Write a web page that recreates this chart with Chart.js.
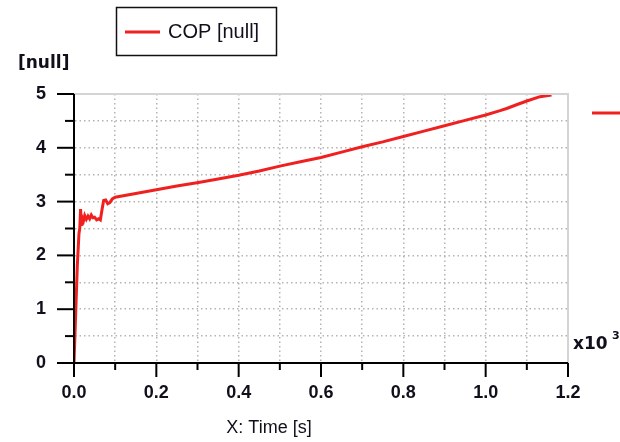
<!DOCTYPE html>
<html>
<head>
<meta charset="utf-8">
<script src="https://cdn.jsdelivr.net/npm/chart.js@4"></script>
<style>
  html, body { margin: 0; padding: 0; background: #fff; }
  #wrap { width: 620px; height: 442px; }
</style>
</head>
<body>
<div id="wrap"><canvas id="cop"></canvas></div>
<script>
// time axis in x10^3 s
const timeX = [0.000, 0.004, 0.008, 0.012, 0.014, 0.016, 0.018, 0.020, 0.023, 0.026, 0.030, 0.034, 0.038,
  0.042, 0.046, 0.050, 0.055, 0.060, 0.064, 0.068, 0.072, 0.077, 0.082, 0.087, 0.093, 0.100, 0.150,
  0.200, 0.250, 0.306, 0.350, 0.400, 0.450, 0.500, 0.550, 0.600, 0.650, 0.700, 0.750, 0.800, 0.850,
  0.900, 0.950, 1.000, 1.035, 1.051, 1.075, 1.100, 1.132, 1.160];
const copVals = [0.00, 0.90, 1.80, 2.40, 2.50, 2.86, 2.55, 2.70, 2.64, 2.74, 2.67, 2.73, 2.68,
  2.75, 2.70, 2.71, 2.66, 2.68, 2.66, 2.85, 3.02, 3.03, 2.96, 2.98, 3.05, 3.08, 3.15,
  3.22, 3.29, 3.36, 3.42, 3.49, 3.57, 3.66, 3.74, 3.82, 3.92, 4.02, 4.11, 4.21, 4.31,
  4.41, 4.51, 4.61, 4.69, 4.73, 4.80, 4.87, 4.95, 4.98];
const xTickVals = [0, 0.1, 0.2, 0.3, 0.4, 0.5, 0.6, 0.7, 0.8, 0.9, 1.0, 1.1, 1.2];
const yTickVals = [0, 0.5, 1, 1.5, 2, 2.5, 3, 3.5, 4, 4.5, 5];

const lineRed = 'rgb(240,32,32)';
const textCol = '#10101c';
const tickFont = { family: 'Liberation Sans', size: 18, weight: 'bold' };

// extra drawing: frame, tick marks, unit texts, legend box
const decorPlugin = {
    id: 'decor',
    afterDraw(chart) {
        const ctx = chart.ctx;
        const a = chart.chartArea;
        const xs = chart.scales.x, ys = chart.scales.y;
        ctx.save();
        ctx.setLineDash([]);
        // top / right frame
        ctx.strokeStyle = '#d4d4d4';
        ctx.lineWidth = 2;
        ctx.beginPath();
        ctx.moveTo(a.left, a.top);
        ctx.lineTo(a.right, a.top);
        ctx.lineTo(a.right, a.bottom);
        ctx.stroke();
        // axis lines on top
        ctx.strokeStyle = '#000';
        ctx.beginPath();
        ctx.moveTo(a.left, a.top);
        ctx.lineTo(a.left, a.bottom);
        ctx.lineTo(a.right, a.bottom);
        ctx.stroke();
        // tick marks
        xTickVals.forEach((v, i) => {
            const px = xs.getPixelForValue(v);
            ctx.beginPath();
            ctx.moveTo(px, a.bottom);
            ctx.lineTo(px, a.bottom + (i % 2 === 0 ? 14 : 7));
            ctx.stroke();
        });
        yTickVals.forEach((v, i) => {
            const py = ys.getPixelForValue(v);
            ctx.beginPath();
            ctx.moveTo(a.left, py);
            ctx.lineTo(a.left - (i % 2 === 0 ? 17 : 9), py);
            ctx.stroke();
        });
        // texts
        ctx.fillStyle = textCol;
        ctx.textBaseline = 'middle';
        ctx.textAlign = 'left';
        ctx.font = 'bold 17px "DejaVu Sans"';
        ctx.fillText('[null]', 18, 64);
        ctx.fillText('x10', 573, 345);
        ctx.font = 'bold 11px "DejaVu Sans"';
        ctx.fillText('3', 612, 336);
        ctx.font = '18px "Liberation Sans"';
        ctx.textAlign = 'center';
        ctx.fillText('X: Time [s]', 269, 428);
        // legend box
        ctx.strokeStyle = '#111';
        ctx.lineWidth = 1.5;
        ctx.strokeRect(116.5, 7.5, 160, 48);
        ctx.strokeStyle = lineRed;
        ctx.lineWidth = 3;
        ctx.beginPath();
        ctx.moveTo(125, 32);
        ctx.lineTo(160, 32);
        ctx.stroke();
        ctx.fillStyle = textCol;
        ctx.textAlign = 'left';
        ctx.font = '20px "Liberation Sans"';
        ctx.fillText('COP [null]', 168, 32);
        // cut-off legend dash at the right edge
        ctx.strokeStyle = lineRed;
        ctx.beginPath();
        ctx.moveTo(592, 113);
        ctx.lineTo(620, 113);
        ctx.stroke();
        ctx.restore();
    }
};

const dottedGrid = { color: '#b4b4b4', drawTicks: false, lineWidth: 1.5 };
const dottedBorder = { color: '#000', width: 2, dash: [1.5, 3] };

new Chart(document.getElementById('cop'), {
    type: 'line',
    data: {
        datasets: [{
            label: 'COP [null]',
            data: timeX.map((t, i) => ({ x: t, y: copVals[i] })),
            borderColor: lineRed,
            borderWidth: 3,
            pointRadius: 0,
            tension: 0,
            fill: false,
        }]
    },
    options: {
        responsive: true,
        maintainAspectRatio: false,
        animation: false,
        layout: { padding: { top: 94, right: 52, left: 0, bottom: 0 } },
        plugins: {
            legend: { display: false },
            tooltip: { enabled: false },
        },
        scales: {
            x: {
                type: 'linear',
                min: 0,
                max: 1.2,
                afterFit(scale) { scale.height = 79; },
                afterBuildTicks(scale) { scale.ticks = xTickVals.map(v => ({ value: v })); },
                ticks: {
                    autoSkip: false,
                    maxRotation: 0,
                    padding: 19,
                    color: textCol,
                    font: tickFont,
                    callback: (v, i) => (i % 2 === 0 ? Number(v).toFixed(1) : ''),
                },
                grid: dottedGrid,
                border: dottedBorder,
            },
            y: {
                min: 0,
                max: 5,
                afterFit(scale) { scale.width = 74; },
                afterBuildTicks(scale) { scale.ticks = yTickVals.map(v => ({ value: v })); },
                ticks: {
                    autoSkip: false,
                    padding: 28,
                    color: textCol,
                    font: tickFont,
                    callback: (v, i) => (i % 2 === 0 ? String(v) : ''),
                },
                grid: dottedGrid,
                border: dottedBorder,
            }
        }
    },
    plugins: [decorPlugin]
});
</script>
</body>
</html>
